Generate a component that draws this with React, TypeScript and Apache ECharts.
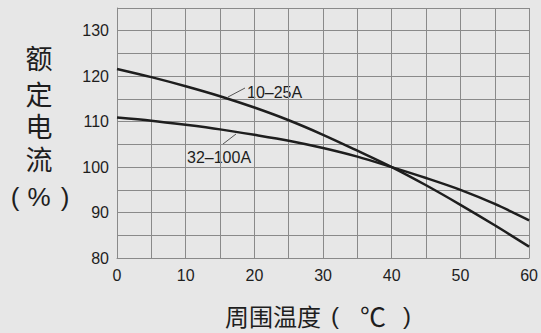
import React, { useEffect, useRef } from "react";
import * as echarts from "echarts";

// Ambient temperature (°C)
const temperatures = [0, 5, 10, 15, 20, 25, 30, 35, 40, 45, 50, 55, 60];
// Rated current (%) for 10–25A
const rated10to25A = [121.6, 119.8, 117.8, 115.6, 113.1, 110.3, 107.1, 103.6, 100.0, 96.0, 91.7, 87.2, 82.5];
// Rated current (%) for 32–100A
const rated32to100A = [110.9, 110.2, 109.3, 108.3, 107.1, 105.8, 104.2, 102.3, 100.0, 97.6, 95.0, 91.9, 88.3];
const seriesNames = ["10–25A", "32–100A"];
const yTitleChars = ["额", "定", "电", "流"];
const xTitle = "周围温度";

const NUM_FONT = "'Liberation Sans', Arial, Helvetica, sans-serif";
const CJK_FONT = "'Noto Sans CJK SC', 'Noto Sans', sans-serif";
const CJK_TIGHT = "'Liberation Sans', 'Noto Sans CJK SC', sans-serif";
const INK = "#1e1e1e";

export default function App() {
  const ref = useRef<HTMLDivElement>(null);

  useEffect(() => {
    if (!ref.current) return;
    const chart = echarts.init(ref.current, undefined, { renderer: "svg" });

    const toPairs = (vals: number[]) => temperatures.map((t, i) => [t, vals[i]]);
    const labelFmt = (v: number) => (v % 10 === 0 ? String(v) : "");

    const yTitleY = [60, 96, 128, 161];

    const graphics: any[] = [
      ...yTitleChars.map((c, i) => ({
        type: "text",
        x: 39,
        y: yTitleY[i],
        style: {
          text: c,
          font: `27px ${CJK_TIGHT}`,
          fill: INK,
          align: "center",
          verticalAlign: "middle",
          lineHeight: 27,
        },
      })),
      { type: "text", x: 15, y: 197, style: { text: "(", font: `26px ${NUM_FONT}`, fill: INK, align: "center", verticalAlign: "middle" } },
      { type: "text", x: 39, y: 197, style: { text: "%", font: `26px ${NUM_FONT}`, fill: INK, align: "center", verticalAlign: "middle" } },
      { type: "text", x: 65, y: 197, style: { text: ")", font: `26px ${NUM_FONT}`, fill: INK, align: "center", verticalAlign: "middle" } },
      {
        type: "text",
        x: 225,
        y: 315,
        style: { text: xTitle, font: `24px ${CJK_FONT}`, fill: INK, align: "left", verticalAlign: "middle" },
      },
      { type: "text", x: 335, y: 315, style: { text: "(", font: `24px ${NUM_FONT}`, fill: INK, align: "center", verticalAlign: "middle" } },
      { type: "text", x: 373, y: 315, style: { text: "℃", font: `26px ${CJK_FONT}`, fill: INK, align: "center", verticalAlign: "middle" } },
      { type: "text", x: 407, y: 315, style: { text: ")", font: `24px ${NUM_FONT}`, fill: INK, align: "center", verticalAlign: "middle" } },
      // annotation labels
      {
        type: "line",
        shape: { x1: 228, y1: 97, x2: 245, y2: 88 },
        style: { stroke: "#555", lineWidth: 1 },
      },
      {
        type: "text",
        x: 247,
        y: 92,
        style: { text: seriesNames[0], font: `16px ${NUM_FONT}`, fill: INK, align: "left", verticalAlign: "middle" },
      },
      {
        type: "line",
        shape: { x1: 223, y1: 144, x2: 236, y2: 134 },
        style: { stroke: "#555", lineWidth: 1 },
      },
      {
        type: "text",
        x: 187,
        y: 157,
        style: { text: seriesNames[1], font: `16px ${NUM_FONT}`, fill: INK, align: "left", verticalAlign: "middle" },
      },
    ];

    chart.setOption({
      animation: false,
      backgroundColor: "#e7e7e7",
      grid: { left: 117, top: 8, width: 414, height: 250, containLabel: false },
      xAxis: {
        type: "value",
        min: 0,
        max: 60,
        interval: 5,
        axisLine: { show: true, lineStyle: { color: "#8a8a8a", width: 1 } },
        axisTick: { show: false },
        axisLabel: {
          formatter: labelFmt,
          color: INK,
          fontSize: 16,
          fontFamily: NUM_FONT,
          margin: 9,
          showMaxLabel: true,
          showMinLabel: true,
        },
        splitLine: { show: true, lineStyle: { color: "#8a8a8a", width: 1 } },
      },
      yAxis: {
        type: "value",
        min: 80,
        max: 135,
        interval: 5,
        axisLine: { show: true, lineStyle: { color: "#8a8a8a", width: 1 } },
        axisTick: { show: false },
        axisLabel: {
          formatter: labelFmt,
          color: INK,
          fontSize: 16,
          fontFamily: NUM_FONT,
          margin: 8,
        },
        splitLine: { show: true, lineStyle: { color: "#8a8a8a", width: 1 } },
      },
      series: [
        {
          name: seriesNames[0],
          type: "line",
          data: toPairs(rated10to25A),
          smooth: 0.3,
          showSymbol: false,
          lineStyle: { color: INK, width: 2.5 },
        },
        {
          name: seriesNames[1],
          type: "line",
          data: toPairs(rated32to100A),
          smooth: 0.3,
          showSymbol: false,
          lineStyle: { color: INK, width: 2.5 },
        },
      ],
      graphic: graphics,
    });

    return () => chart.dispose();
  }, []);

  return (
    <div
      ref={ref}
      style={{ position: "fixed", left: 0, top: 0, width: 541, height: 333 }}
    />
  );
}
